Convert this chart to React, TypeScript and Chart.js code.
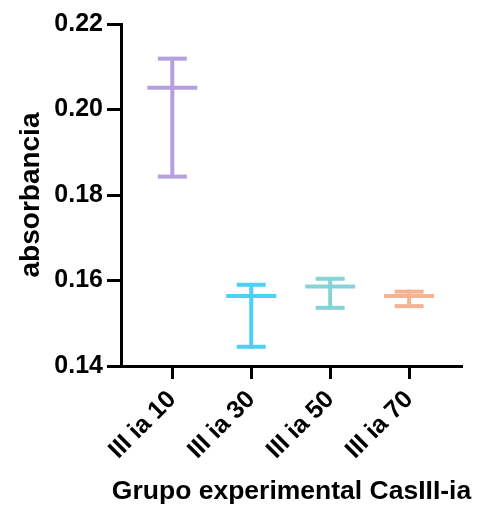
import React, { useEffect, useRef } from "react";
import { Chart, registerables } from "chart.js";

Chart.register(...registerables);

const categories = ["III ia 10", "III ia 30", "III ia 50", "III ia 70"];
const means = [0.2051, 0.1564, 0.1586, 0.1564];
const upper = [0.2119, 0.159, 0.1604, 0.1574];
const lower = [0.1843, 0.1445, 0.1536, 0.154];
const colors = ["#B69FDD", "#4DD0F7", "#86D2D6", "#F4B393"];
const yTicks = [0.14, 0.16, 0.18, 0.2, 0.22];
const yTitle = "absorbancia";
const xTitle = "Grupo experimental CasIII-ia";

const FONT = "'Liberation Sans', Arial, Helvetica, sans-serif";

// Draws the x-axis title without squeezing it to the axis width.
const xTitlePlugin = {
  id: "xTitleFree",
  afterDraw(chart: any) {
    const x = chart.scales.x;
    const ctx = chart.ctx;
    ctx.save();
    ctx.fillStyle = "#000";
    ctx.font = `bold 26.5px ${FONT}`;
    ctx.textAlign = "center";
    ctx.textBaseline = "middle";
    ctx.fillText(xTitle, (x.left + x.right) / 2, x.bottom - 16.5);
    ctx.restore();
  },
};

export default function App() {
  const ref = useRef<HTMLCanvasElement | null>(null);

  useEffect(() => {
    if (!ref.current) return;
    const whisker: any[] = [];
    categories.forEach((_, i) => {
      whisker.push({ x: i, y: lower[i] });
      whisker.push({ x: i, y: upper[i] });
      whisker.push({ x: i, y: null });
    });
    const chart = new Chart(ref.current, {
      type: "scatter",
      plugins: [xTitlePlugin],
      data: {
        datasets: [
          {
            type: "line",
            data: whisker,
            showLine: true,
            spanGaps: false,
            borderWidth: 4,
            borderCapStyle: "round",
            pointRadius: 0,
            borderColor: colors[0],
            segment: {
              borderColor: (ctx: any) => colors[Math.floor(ctx.p0DataIndex / 3)],
            },
          } as any,
          {
            data: categories.map((_, i) => ({ x: i, y: means[i] })),
            pointStyle: "line",
            pointRadius: 25,
            pointBorderWidth: 4,
            pointBorderColor: colors,
            pointBackgroundColor: colors,
          } as any,
          {
            data: categories.map((_, i) => ({ x: i, y: upper[i] })),
            pointStyle: "line",
            pointRadius: 14.5,
            pointBorderWidth: 4,
            pointBorderColor: colors,
            pointBackgroundColor: colors,
          } as any,
          {
            data: categories.map((_, i) => ({ x: i, y: lower[i] })),
            pointStyle: "line",
            pointRadius: 14.5,
            pointBorderWidth: 4,
            pointBorderColor: colors,
            pointBackgroundColor: colors,
          } as any,
        ],
      },
      options: {
        animation: false,
        responsive: false,
        maintainAspectRatio: false,
        layout: { autoPadding: false, padding: { left: 0, top: 24, right: 23, bottom: 0 } },
        plugins: { legend: { display: false }, tooltip: { enabled: false } },
        scales: {
          x: {
            type: "linear",
            min: -0.65,
            max: 3.67,
            afterBuildTicks: (scale: any) => {
              scale.ticks = categories.map((_, i) => ({ value: i }));
            },
            afterFit: (scale: any) => {
              scale.height = 142;
            },
            grid: {
              drawOnChartArea: false,
              drawTicks: true,
              tickLength: 13,
              tickWidth: 3,
              tickColor: "#000",
            },
            border: { display: true, color: "#000", width: 3 },
            ticks: {
              autoSkip: false,
              minRotation: 45,
              maxRotation: 45,
              padding: 6,
              color: "#000",
              font: { family: FONT, size: 25, weight: "bold" },
              callback: (v: any) => categories[Math.round(Number(v))],
            },
            title: { display: false },
          },
          y: {
            type: "linear",
            min: 0.14,
            max: 0.22,
            afterBuildTicks: (scale: any) => {
              scale.ticks = yTicks.map((v) => ({ value: v }));
            },
            afterFit: (scale: any) => {
              scale.width = 121;
            },
            grid: {
              drawOnChartArea: false,
              drawTicks: true,
              tickLength: 14,
              tickWidth: 3,
              tickColor: "#000",
            },
            border: { display: true, color: "#000", width: 3 },
            ticks: {
              padding: 4,
              color: "#000",
              font: { family: FONT, size: 25, weight: "bold" },
              callback: (v: any) => Number(v).toFixed(2),
            },
            title: {
              display: true,
              text: yTitle,
              color: "#000",
              font: { family: FONT, size: 28, weight: "bold" },
              padding: { top: 14, bottom: 0 },
            },
          },
        },
      },
    });
    return () => chart.destroy();
  }, []);

  return (
    <div style={{ position: "fixed", left: 0, top: 0, width: 485, height: 508, background: "#fff" }}>
      <canvas ref={ref} width={485} height={508} style={{ width: 485, height: 508 }} />
    </div>
  );
}
